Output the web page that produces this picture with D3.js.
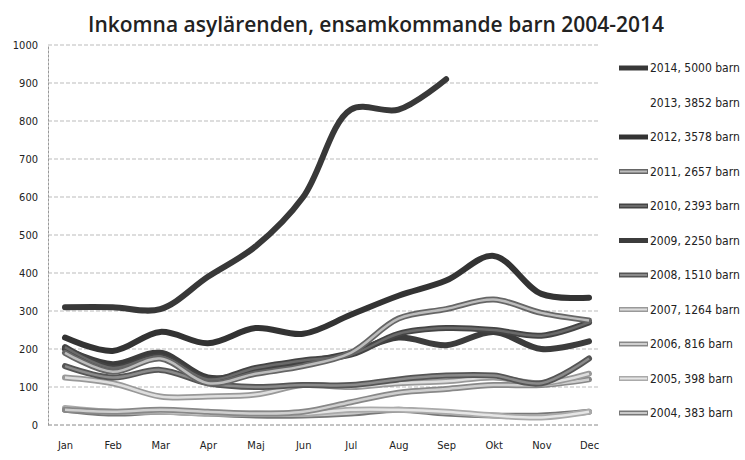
<!DOCTYPE html>
<html>
<head>
<meta charset="utf-8">
<script src="https://cdn.jsdelivr.net/npm/d3@7"></script>
<style>
  body { margin: 0; background: #fff; }
  svg { display: block; }
  .tick text { font-family: "DejaVu Sans Condensed", "Liberation Sans Narrow", sans-serif; font-size: 11px; fill: #222; }
  .legend text { font-family: "DejaVu Sans Condensed", "Liberation Sans Narrow", sans-serif; font-size: 12px; fill: #222; }
</style>
</head>
<body>
<div id="chart"></div>
<script>
const months = ['Jan','Feb','Mar','Apr','Maj','Jun','Jul','Aug','Sep','Okt','Nov','Dec'];
const yTicks = [0,100,200,300,400,500,600,700,800,900,1000];

// monthly values (2013 line is not visible in the scan)
const y2014 = [310,310,305,390,470,600,830,830,910];
const y2012 = [230,195,245,215,255,240,290,340,380,445,345,335];
const y2011 = [190,140,175,110,135,155,190,280,305,330,295,275];
const y2010 = [205,150,180,120,150,170,185,240,255,250,235,270];
const y2009 = [200,160,190,125,140,165,190,230,210,245,200,220];
const y2008 = [155,125,145,110,100,105,105,120,130,130,110,175];
const y2007 = [125,110,75,75,80,105,100,110,115,125,110,135];
const y2006 = [40,35,40,35,30,35,60,85,95,105,105,120];
const y2005 = [45,35,35,30,30,30,40,40,35,25,20,35];
const y2004 = [40,30,35,30,25,25,30,40,30,25,25,35];

const legendLabels = ['2014, 5000 barn','2013, 3852 barn','2012, 3578 barn','2011, 2657 barn',
  '2010, 2393 barn','2009, 2250 barn','2008, 1510 barn','2007, 1264 barn','2006, 816 barn',
  '2005, 398 barn','2004, 383 barn'];

const series = [
  {key:'2004', values:y2004, outer:'#777', inner:'#c8c8c8'},
  {key:'2005', values:y2005, outer:'#aaa', inner:'#e6e6e6'},
  {key:'2006', values:y2006, outer:'#888', inner:'#cfcfcf'},
  {key:'2007', values:y2007, outer:'#999', inner:'#dedede'},
  {key:'2008', values:y2008, outer:'#555', inner:'#8a8a8a'},
  {key:'2009', values:y2009, outer:'#3c3c3c', inner:null},
  {key:'2010', values:y2010, outer:'#444', inner:'#6a6a6a'},
  {key:'2011', values:y2011, outer:'#666', inner:'#bdbdbd'},
  {key:'2012', values:y2012, outer:'#333', inner:null},
  {key:'2014', values:y2014, outer:'#383838', inner:null}
];

const svgWidth = 745, svgHeight = 460;
const margin = {top: 45, right: 155, bottom: 35, left: 48};
const width = svgWidth - margin.left - margin.right;
const height = svgHeight - margin.top - margin.bottom;

const svg = d3.select('#chart').append('svg')
  .attr('width', svgWidth)
  .attr('height', svgHeight);

svg.append('text')
  .attr('x', 376)
  .attr('y', 32)
  .attr('text-anchor', 'middle')
  .attr('textLength', 576)
  .attr('lengthAdjust', 'spacingAndGlyphs')
  .style('font-family', '"Open Sans", sans-serif')
  .style('font-size', '22px')
  .style('font-weight', 600)
  .style('fill', '#222')
  .text('Inkomna asylärenden, ensamkommande barn 2004-2014');

const chartGroup = svg.append('g')
  .attr('transform', `translate(${margin.left},${margin.top})`);

const x = d3.scalePoint().domain(months).range([17, 541]);
const y = d3.scaleLinear().domain([0, 1000]).range([height, 0]);

// gridlines
chartGroup.append('g').selectAll('line')
  .data(yTicks)
  .enter().append('line')
  .attr('x1', 0).attr('x2', 552)
  .attr('y1', d => y(d)).attr('y2', d => y(d))
  .attr('stroke', d => d === 0 ? '#888' : '#bbb')
  .attr('stroke-width', 1)
  .attr('stroke-dasharray', '4,2');

const yAxis = chartGroup.append('g')
  .call(d3.axisLeft(y).tickValues(yTicks).tickFormat(d3.format('d')).tickSize(0).tickPadding(10));
yAxis.select('.domain').attr('stroke', '#999').attr('stroke-dasharray', '3,1');

const xAxis = chartGroup.append('g')
  .attr('transform', `translate(0,${height})`)
  .call(d3.axisBottom(x).tickSize(0).tickPadding(16));
xAxis.select('.domain').remove();

const line = d3.line()
  .x((d, i) => x(months[i]))
  .y(d => y(d))
  .curve(d3.curveCatmullRom.alpha(0.5));

series.forEach(s => {
  chartGroup.append('path')
    .datum(s.values)
    .attr('fill', 'none')
    .attr('stroke', s.outer)
    .attr('stroke-width', 6)
    .attr('stroke-linecap', 'round')
    .attr('d', line);
  if (s.inner) {
    chartGroup.append('path')
      .datum(s.values)
      .attr('fill', 'none')
      .attr('stroke', s.inner)
      .attr('stroke-width', 2.5)
      .attr('d', line);
  }
});

// legend
const legendStyle = {
  '2014':['#383838',null], '2013':[null,null], '2012':['#333',null], '2011':['#666','#bdbdbd'],
  '2010':['#444','#6a6a6a'], '2009':['#3c3c3c',null], '2008':['#555','#8a8a8a'],
  '2007':['#999','#dedede'], '2006':['#888','#cfcfcf'], '2005':['#aaa','#e6e6e6'], '2004':['#777','#c8c8c8']
};
const legend = svg.append('g').attr('class', 'legend');
legendLabels.forEach((label, i) => {
  const ly = 68 + i * 34.5;
  const st = legendStyle[label.slice(0, 4)];
  if (st[0]) {
    legend.append('line').attr('x1', 619).attr('x2', 648).attr('y1', ly).attr('y2', ly)
      .attr('stroke', st[0]).attr('stroke-width', 5);
    if (st[1]) legend.append('line').attr('x1', 620).attr('x2', 647).attr('y1', ly).attr('y2', ly)
      .attr('stroke', st[1]).attr('stroke-width', 2);
  }
  legend.append('text').attr('x', 650).attr('y', ly + 4).text(label);
});
</script>
</body>
</html>
